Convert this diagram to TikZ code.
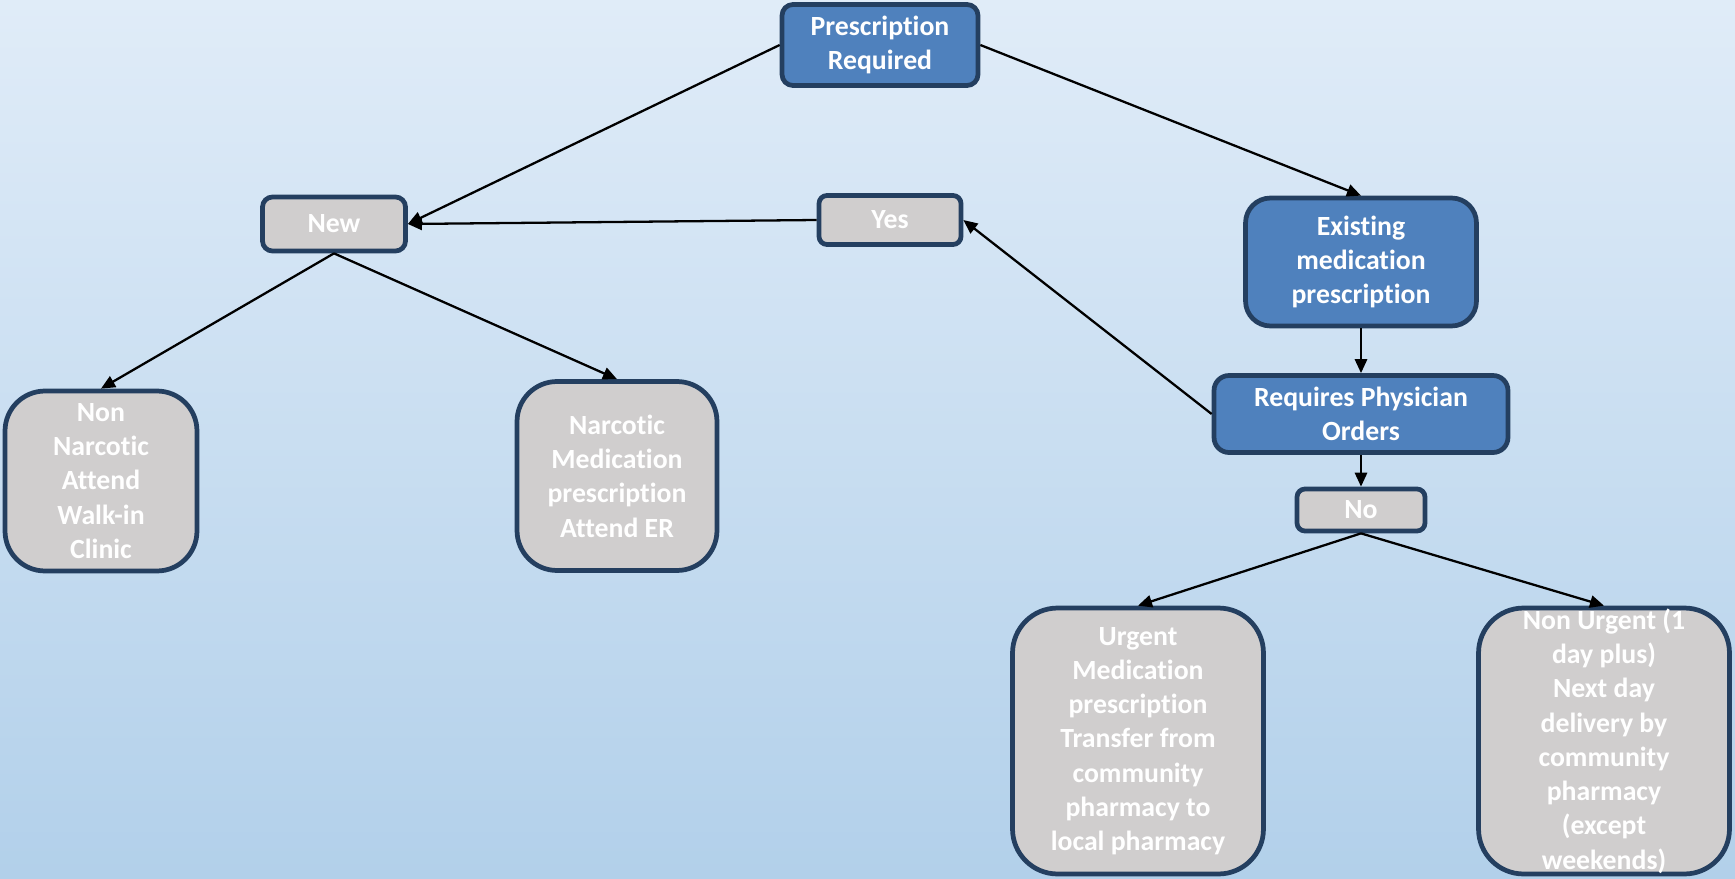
\documentclass[tikz,border=0pt]{standalone}
\usepackage{fontspec}
\setmainfont{Carlito}[Ligatures=NoCommon]
\usetikzlibrary{arrows.meta}
\definecolor{bgtop}{HTML}{E0ECF8}
\definecolor{bgbot}{HTML}{B2D0EA}
\definecolor{stepblue}{HTML}{4F81BD}
\definecolor{stepgrey}{HTML}{D0CECE}
\definecolor{stepedge}{HTML}{243F60}
\tikzset{
  box/.style={draw=stepedge, line width=2.7pt, align=center, text=white,
    inner sep=0pt, font=\fontsize{15.8}{19.5}\selectfont\bfseries},
  bluebox/.style={box, fill=stepblue},
  greybox/.style={box, fill=stepgrey},
  link/.style={line width=1.3pt, -{Triangle[length=8pt,width=7pt]}}
}
\begin{document}
\begin{tikzpicture}[x=0.02cm, y=-0.02cm]
      \useasboundingbox (0,0) rectangle (1735,879);
      \fill[top color=bgtop, bottom color=bgbot] (0,0) rectangle (1735,879);
      \node[bluebox, minimum width=3.92cm, minimum height=1.62cm, rounded corners=0.22cm] (req) at (880,45) {Prescription\\Required};
      \node[greybox, minimum width=2.86cm, minimum height=1.08cm, rounded corners=0.2cm] (new) at (334,224) {New};
      \node[greybox, minimum width=2.84cm, minimum height=0.98cm, rounded corners=0.16cm] (yes) at (890,220) {Yes};
      \node[bluebox, minimum width=4.62cm, minimum height=2.56cm, rounded corners=0.5cm] (exist) at (1361,262) {Existing\\medication\\prescription};
      \node[bluebox, minimum width=5.88cm, minimum height=1.54cm, rounded corners=0.3cm] (phys) at (1361,414) {Requires Physician\\Orders};
      \node[greybox, minimum width=2.56cm, minimum height=0.84cm, rounded corners=0.16cm] (no) at (1361,510) {No};
      \node[greybox, minimum width=3.84cm, minimum height=3.6cm, rounded corners=0.8cm] (nonnarc) at (101,481) {Non\\Narcotic\\Attend\\Walk-in\\Clinic};
      \node[greybox, minimum width=4.0cm, minimum height=3.78cm, rounded corners=0.8cm] (narc) at (617,476) {Narcotic\\Medication\\prescription\\Attend ER};
      \node[greybox, minimum width=5.02cm, minimum height=5.32cm, rounded corners=0.9cm] (urgent) at (1138,741) {Urgent\\Medication\\prescription\\Transfer from\\community\\pharmacy to\\local pharmacy};
      \node[greybox, minimum width=5.02cm, minimum height=5.32cm, rounded corners=0.9cm] (nonurg) at (1604,741) {Non Urgent (1\\day plus)\\Next day\\delivery by\\community\\pharmacy\\(except\\weekends)};
      \begin{scope}[link]
        \draw (req.west) to (new.east);
        \draw (req.east) to (exist.north);
        \draw (yes.west) to (new.east);
        \draw (phys.west) to (yes.east);
        \draw (exist.south) to (phys.north);
        \draw (phys.south) to (no.north);
        \draw (new.south) to (nonnarc.north);
        \draw (new.south) to (narc.north);
        \draw (no.south) to (urgent.north);
        \draw (no.south) to (nonurg.north);
      \end{scope}
    \end{tikzpicture}
\end{document}
